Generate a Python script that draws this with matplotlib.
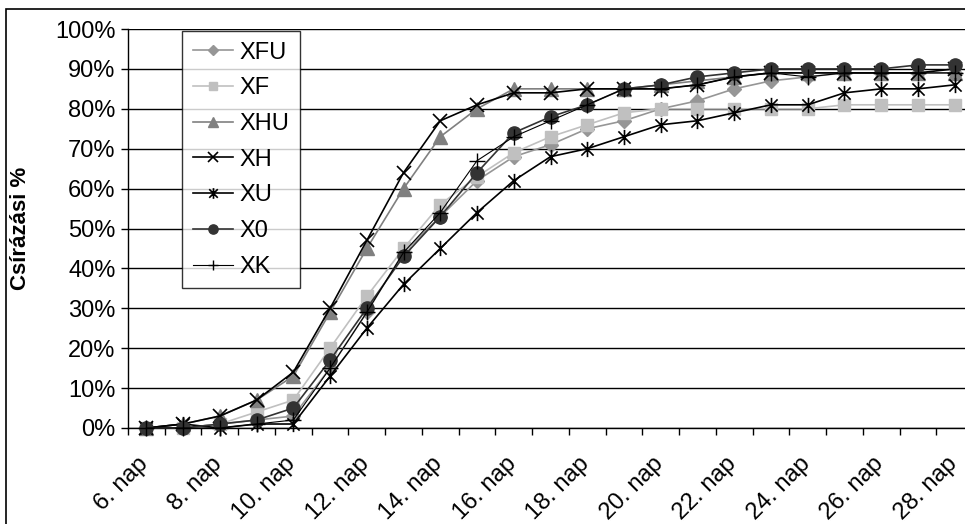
import numpy as np
import matplotlib
matplotlib.use("Agg")
import matplotlib.pyplot as plt
from matplotlib.path import Path
from matplotlib.patches import Rectangle
from matplotlib.transforms import ScaledTranslation

plt.rcParams['font.family'] = ['Liberation Sans', 'DejaVu Sans']

days = [f"{d}. nap" for d in range(6, 29)]

xfu = [0, 0, 1, 2, 3, 15, 29, 44, 53, 62, 68, 71, 75, 77, 80, 82, 85, 87, 88, 89, 89, 89, 89]
xf = [0, 0, 1, 4, 7, 20, 33, 45, 56, 63, 69, 73, 76, 79, 80, 80, 80, 80, 80, 81, 81, 81, 81]
xhu = [0, 1, 3, 7, 13, 29, 45, 60, 73, 80, 85, 85, 85, 85, 86, 87, 88, 89, 89, 89, 89, 89, 89]
xh = [0, 1, 3, 7, 14, 30, 47, 64, 77, 81, 84, 84, 85, 85, 85, 86, 88, 89, 89, 89, 89, 89, 90]
xu = [0, 1, 0, 1, 1, 13, 25, 36, 45, 54, 62, 68, 70, 73, 76, 77, 79, 81, 81, 84, 85, 85, 86]
x0 = [0, 0, 1, 2, 5, 17, 30, 43, 53, 64, 74, 78, 81, 85, 86, 88, 89, 90, 90, 90, 90, 91, 91]
xk = [0, 0, 0, 1, 2, 15, 29, 44, 54, 67, 73, 77, 81, 85, 85, 86, 88, 89, 88, 89, 89, 89, 89]

# x with a vertical bar, like the spreadsheet "star" marker
star = Path([(-1, -1), (1, 1), (-1, 1), (1, -1), (0, -1.25), (0, 1.25)],
            [Path.MOVETO, Path.LINETO, Path.MOVETO, Path.LINETO, Path.MOVETO, Path.LINETO])

series = [
    ("XFU", xfu, dict(color="#969696", marker="D", ms=7, mec="#969696")),
    ("XF", xf, dict(color="#c0c0c0", marker="s", ms=8.5, mec="#c0c0c0")),
    ("XHU", xhu, dict(color="#808080", marker="^", ms=9.5, mec="#808080")),
    ("XH", xh, dict(color="black", marker="x", ms=10, mew=1.2)),
    ("XU", xu, dict(color="black", marker=star, ms=11, mew=1.2)),
    ("X0", x0, dict(color="#333333", marker="o", ms=9.5, mec="#333333")),
    ("XK", xk, dict(color="black", marker="+", ms=11, mew=1.0, lw=0.8)),
]

fig = plt.figure(figsize=(9.65, 5.24), dpi=100)
fig.patches.append(Rectangle((6 / 965, -0.1), 1.2, (524 - 9) / 524 + 0.1,
                             transform=fig.transFigure, fill=False,
                             edgecolor="black", lw=1.2))
ax = fig.add_axes([128 / 965, (524 - 428) / 524, 845 / 965, 399 / 524])

x = np.arange(len(days))
for name, vals, st in series:
    kw = dict(lw=1.2)
    kw.update(st)
    ax.plot(x, vals, label=name, clip_on=False, zorder=3, **kw)

ax.set_xlim(-0.5, len(days) - 0.5)
ax.set_ylim(0, 100)
ax.set_yticks(np.arange(0, 101, 10))
ax.set_yticklabels([f"{v}%" for v in range(0, 101, 10)], fontsize=17)
ax.yaxis.grid(True, color="black", lw=1)
ax.set_axisbelow(True)

ax.set_xticks(x[::2])
ax.set_xticklabels(days[::2], rotation=45, ha="right", va="top",
                   rotation_mode="anchor", fontsize=17)
ax.set_xticks(np.arange(-0.5, len(days)), minor=True)
ax.tick_params(axis="x", which="major", length=0, pad=18)
ax.tick_params(axis="x", which="minor", length=5, width=1, direction="out")
ax.tick_params(axis="y", length=5, width=1, direction="out", pad=4)
shift = ScaledTranslation(-9 / 100, 0, fig.dpi_scale_trans)
for lab in ax.get_xticklabels():
    lab.set_transform(lab.get_transform() + shift)

for s in ("top", "right"):
    ax.spines[s].set_visible(False)
for s in ("left", "bottom"):
    ax.spines[s].set_linewidth(1)

ax.set_ylabel("Csírázási %", fontsize=16, fontweight="bold", labelpad=17)

leg = ax.legend(loc="upper left", bbox_to_anchor=((182 - 128) / 845, 0.995),
                borderaxespad=0, fontsize=17, frameon=True, fancybox=False,
                edgecolor="black", handlelength=1.7, handletextpad=0.3,
                labelspacing=0.58, borderpad=0.45)
leg.get_frame().set_linewidth(1)
for h in leg.legend_handles:
    h.set_markersize(h.get_markersize() * 0.7)

fig.savefig("out.png", dpi=100)
